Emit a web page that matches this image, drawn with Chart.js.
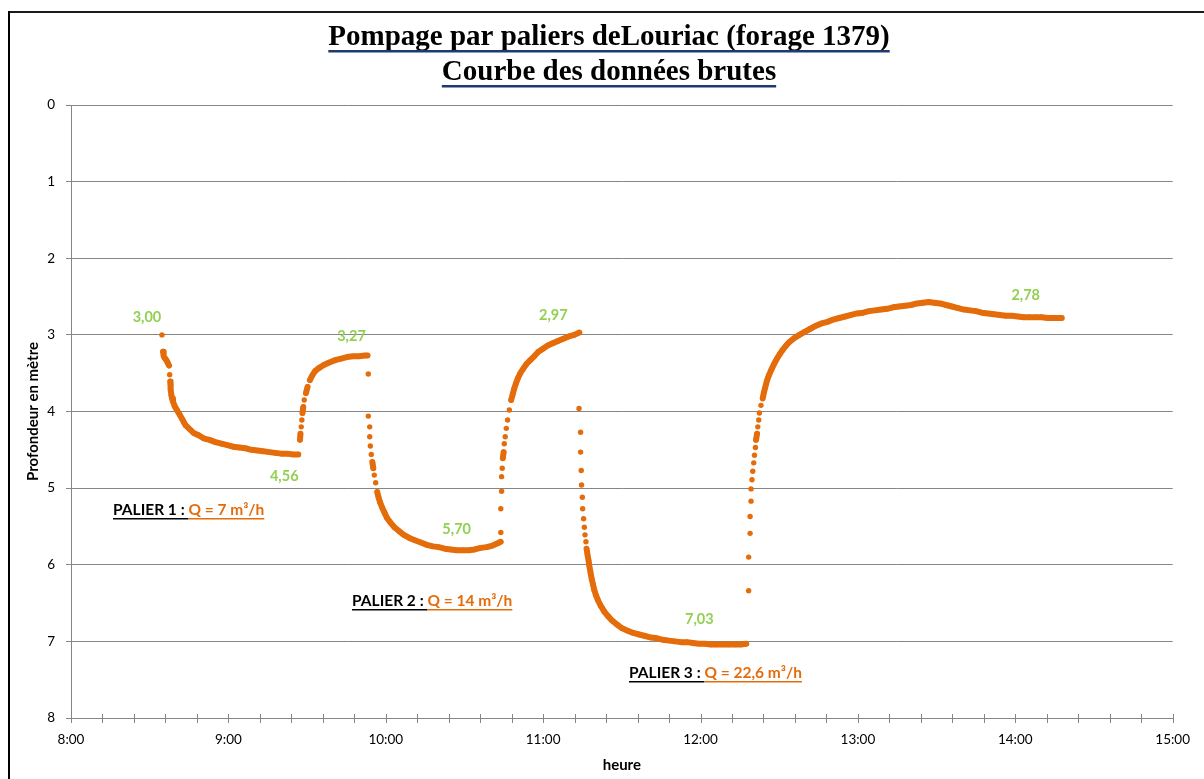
<!DOCTYPE html>
<html lang="fr">
<head>
<meta charset="utf-8">
<title>Pompage par paliers de Louriac</title>
<script src="https://cdn.jsdelivr.net/npm/chart.js@4.4.1/dist/chart.umd.min.js"></script>
<style>
	html, body { margin: 0; padding: 0; background: #fff; }
	canvas { display: block; }
</style>
</head>
<body>
<canvas id="graphique" width="1204" height="779"></canvas>
<script>
// --- Données (heure décimale, profondeur en m)
const palier1Heures = [8.578, 8.585, 8.589, 8.595, 8.606, 8.616, 8.623, 8.627, 8.631, 8.633, 8.633, 8.638, 8.642, 8.648, 8.659, 8.673, 8.690, 8.707, 8.717, 8.728, 8.754, 8.779, 8.811, 8.842, 8.880, 8.918, 8.956, 8.994, 9.032, 9.070, 9.108, 9.146, 9.184, 9.222, 9.260, 9.298, 9.336, 9.374, 9.412, 9.444];
const palier1Prof   = [3.00, 3.22, 3.28, 3.30, 3.33, 3.37, 3.40, 3.52, 3.61, 3.66, 3.71, 3.79, 3.83, 3.87, 3.93, 3.98, 4.04, 4.10, 4.14, 4.18, 4.23, 4.28, 4.31, 4.35, 4.37, 4.40, 4.42, 4.44, 4.46, 4.47, 4.48, 4.50, 4.51, 4.52, 4.53, 4.54, 4.55, 4.55, 4.56, 4.56];

const remontee1Heures = [9.455, 9.458, 9.463, 9.467, 9.471, 9.476, 9.482, 9.493, 9.503, 9.518, 9.533, 9.552, 9.577, 9.609, 9.641, 9.679, 9.716, 9.754, 9.792, 9.830, 9.868, 9.884];
const remontee1Prof   = [4.37, 4.29, 4.20, 4.11, 4.02, 3.94, 3.85, 3.76, 3.68, 3.59, 3.53, 3.47, 3.43, 3.39, 3.36, 3.33, 3.31, 3.29, 3.28, 3.28, 3.27, 3.27];

const palier2Heures = [9.889, 9.889, 9.898, 9.898, 9.902, 9.908, 9.915, 9.921, 9.927, 9.936, 9.946, 9.954, 9.963, 9.976, 9.992, 10.008, 10.030, 10.055, 10.084, 10.115, 10.150, 10.185, 10.223, 10.261, 10.299, 10.337, 10.375, 10.413, 10.451, 10.489, 10.527, 10.565, 10.603, 10.641, 10.679, 10.711, 10.730];
const palier2Prof   = [3.51, 4.06, 4.20, 4.33, 4.45, 4.56, 4.66, 4.74, 4.83, 4.93, 5.05, 5.12, 5.18, 5.25, 5.32, 5.39, 5.45, 5.51, 5.56, 5.61, 5.65, 5.68, 5.71, 5.74, 5.76, 5.77, 5.79, 5.80, 5.81, 5.81, 5.81, 5.80, 5.78, 5.77, 5.75, 5.72, 5.70];

const remontee2Heures = [10.731, 10.731, 10.736, 10.736, 10.740, 10.744, 10.749, 10.753, 10.759, 10.766, 10.774, 10.785, 10.797, 10.806, 10.815, 10.826, 10.839, 10.855, 10.874, 10.894, 10.918, 10.943, 10.970, 10.999, 11.029, 11.061, 11.094, 11.128, 11.163, 11.198, 11.230];
const remontee2Prof   = [5.58, 5.27, 5.04, 4.85, 4.74, 4.61, 4.53, 4.42, 4.33, 4.22, 4.11, 3.98, 3.85, 3.78, 3.71, 3.64, 3.57, 3.50, 3.44, 3.38, 3.33, 3.28, 3.22, 3.18, 3.14, 3.11, 3.08, 3.05, 3.02, 3.00, 2.97];

const palier3Heures = [11.228, 11.238, 11.238, 11.242, 11.244, 11.249, 11.251, 11.257, 11.262, 11.266, 11.272, 11.276, 11.282, 11.289, 11.294, 11.301, 11.308, 11.316, 11.325, 11.336, 11.350, 11.367, 11.377, 11.388, 11.412, 11.439, 11.469, 11.502, 11.537, 11.573, 11.610, 11.648, 11.686, 11.724, 11.762, 11.800, 11.838, 11.876, 11.914, 11.952, 11.990, 12.028, 12.066, 12.104, 12.142, 12.180, 12.218, 12.256, 12.291];
const palier3Prof   = [3.96, 4.27, 4.53, 4.77, 4.96, 5.12, 5.27, 5.40, 5.51, 5.61, 5.70, 5.79, 5.87, 5.95, 6.02, 6.10, 6.18, 6.25, 6.33, 6.40, 6.47, 6.54, 6.57, 6.61, 6.67, 6.73, 6.78, 6.83, 6.86, 6.89, 6.91, 6.93, 6.95, 6.96, 6.98, 6.99, 7.00, 7.01, 7.01, 7.02, 7.03, 7.03, 7.04, 7.04, 7.04, 7.04, 7.04, 7.04, 7.03];

const remontee3Heures = [12.306, 12.306, 12.315, 12.315, 12.321, 12.321, 12.327, 12.332, 12.338, 12.343, 12.349, 12.353, 12.359, 12.364, 12.370, 12.374, 12.384,
	12.395, 12.403, 12.412, 12.422, 12.434, 12.449, 12.465, 12.483, 12.504, 12.524, 12.544, 12.566, 12.597, 12.628, 12.662, 12.698, 12.734, 12.770, 12.807, 12.844, 12.881, 12.919, 12.957, 12.995, 13.034, 13.071, 13.109, 13.147, 13.186, 13.224, 13.262, 13.300, 13.338, 13.376, 13.414, 13.450, 13.484, 13.522, 13.560, 13.598, 13.636, 13.674, 13.712, 13.750, 13.788, 13.826, 13.864, 13.902, 13.940, 13.978, 14.016, 14.054, 14.092, 14.130, 14.168, 14.206, 14.244, 14.282, 14.295];
const remontee3Prof   = [6.34, 5.90, 5.59, 5.37, 5.17, 5.01, 4.89, 4.78, 4.67, 4.57, 4.47, 4.37, 4.29, 4.20, 4.11, 4.02, 3.92,
	3.83, 3.75, 3.68, 3.60, 3.53, 3.46, 3.39, 3.32, 3.25, 3.19, 3.14, 3.09, 3.04, 3.00, 2.96, 2.92, 2.88, 2.85, 2.83, 2.80, 2.78, 2.76, 2.74, 2.72, 2.71, 2.69, 2.68, 2.67, 2.66, 2.64, 2.63, 2.62, 2.61, 2.59, 2.58, 2.57, 2.58, 2.59, 2.61, 2.63, 2.65, 2.67, 2.68, 2.69, 2.71, 2.72, 2.73, 2.74, 2.75, 2.75, 2.76, 2.77, 2.77, 2.77, 2.77, 2.78, 2.78, 2.78, 2.78];

// valeurs repères affichées en vert
const repereTextes = ['3,00', '4,56', '3,27', '5,70', '2,97', '7,03', '2,78'];
const repereHeures = [8.578, 9.444, 9.884, 10.730, 11.230, 12.291, 14.295];
const repereProf   = [3.00, 4.56, 3.27, 5.70, 2.97, 7.03, 2.78];

const paliersNoms   = ['PALIER 1 : ', 'PALIER 2 : ', 'PALIER 3 : '];
const paliersDebits = ['Q = 7 m³/h', 'Q = 14 m³/h', 'Q = 22,6 m³/h'];

const titreLignes = ['Pompage par paliers deLouriac (forage 1379)', 'Courbe des données brutes'];

const ORANGE = '#E46C0A';
const VERT = '#92D050';
const GRIS = '#868686';

function points(heures, prof) {
	let pts = [];
	for (let i = 0; i < heures.length; i++) {
		pts.push({ x: heures[i], y: prof[i] });
	}
	return pts;
}

const mesures = [].concat(
	points(palier1Heures, palier1Prof),
	points(remontee1Heures, remontee1Prof),
	points(palier2Heures, palier2Prof),
	points(remontee2Heures, remontee2Prof),
	points(palier3Heures, palier3Prof),
	points(remontee3Heures, remontee3Prof)
);

// fond blanc + cadre noir en haut et à gauche
const cadre = {
	id: 'cadre',
	beforeDraw(chart) {
		const ctx = chart.ctx;
		ctx.save();
		ctx.fillStyle = '#fff';
		ctx.fillRect(0, 0, chart.width, chart.height);
		ctx.fillStyle = '#1a1a1a';
		ctx.fillRect(8, 11, chart.width - 8, 2);
		ctx.fillStyle = '#000';
		ctx.fillRect(8, 11, 2, chart.height - 11);
		ctx.restore();
	}
};

// titre souligné
const titre = {
	id: 'titre',
	afterDraw(chart) {
		const ctx = chart.ctx;
		const cx = 609;
		const bases = [45, 80];
		ctx.save();
		ctx.font = 'bold 29px "Liberation Serif"';
		ctx.textAlign = 'center';
		ctx.textBaseline = 'alphabetic';
		titreLignes.forEach((ligne, i) => {
			ctx.fillStyle = '#000';
			ctx.fillText(ligne, cx, bases[i]);
			let w = ctx.measureText(ligne).width;
			ctx.fillStyle = '#1F3A6E';
			ctx.fillRect(cx - w / 2, bases[i] + 5, w, 2.5);
		});
		ctx.restore();
	}
};

// graduations en croix sur l'axe des heures
const croix = {
	id: 'croix',
	afterDraw(chart) {
		const ctx = chart.ctx;
		const x = chart.scales.x;
		const bas = chart.chartArea.bottom;
		ctx.save();
		ctx.strokeStyle = GRIS;
		ctx.lineWidth = 1;
		x.ticks.forEach(t => {
			let px = Math.round(x.getPixelForValue(t.value)) + 0.5;
			ctx.beginPath();
			ctx.moveTo(px, bas - 4);
			ctx.lineTo(px, bas + 5);
			ctx.stroke();
		});
		ctx.restore();
	}
};

// étiquettes vertes près des points repères
const reperes = {
	id: 'reperes',
	afterDatasetsDraw(chart) {
		const ctx = chart.ctx;
		const {x, y} = chart.scales;
		const decalages = [[-15, -18], [-14, 22], [-16, -19], [-44, -12], [-26, -17], [-47, -24], [-36, -23]];
		ctx.save();
		ctx.font = 'bold 14.5px Lato';
		ctx.fillStyle = VERT;
		ctx.textAlign = 'center';
		ctx.textBaseline = 'middle';
		for (let i = 0; i < repereTextes.length; i++) {
			let px = x.getPixelForValue(repereHeures[i]) + decalages[i][0];
			let py = y.getPixelForValue(repereProf[i]) + decalages[i][1];
			ctx.fillText(repereTextes[i], px, py);
		}
		ctx.restore();
	}
};

// légendes des paliers (texte souligné noir + débit orange)
const paliers = {
	id: 'paliers',
	afterDraw(chart) {
		const ctx = chart.ctx;
		const places = [[113, 515], [352, 606], [629, 678]];
		ctx.save();
		ctx.textAlign = 'left';
		ctx.textBaseline = 'alphabetic';
		ctx.font = 'bold 15.5px Lato';
		for (let i = 0; i < paliersNoms.length; i++) {
			let [px, py] = places[i];
			ctx.fillStyle = '#000';
			ctx.fillText(paliersNoms[i], px, py);
			let w1 = ctx.measureText(paliersNoms[i]).width;
			ctx.fillRect(px, py + 3, w1, 1.5);
			ctx.fillStyle = ORANGE;
			ctx.fillText(paliersDebits[i], px + w1, py);
			let w2 = ctx.measureText(paliersDebits[i]).width;
			ctx.fillRect(px + w1, py + 3, w2, 1.5);
		}
		ctx.restore();
	}
};

new Chart(document.getElementById('graphique'), {
	type: 'scatter',
	data: {
		datasets: [{
			label: 'Profondeur',
			data: mesures,
			showLine: true,
			borderColor: ORANGE,
			borderWidth: 6,
			borderCapStyle: 'round',
			borderJoinStyle: 'round',
			tension: 0,
			segment: {
				// relie seulement les mesures très rapprochées (partie dense de la courbe)
				borderColor: c => Math.hypot(c.p1.x - c.p0.x, c.p1.y - c.p0.y) > 6.6 ? 'rgba(0,0,0,0)' : undefined
			},
			pointRadius: 2.7,
			pointHoverRadius: 2.7,
			pointBorderWidth: 0,
			pointBackgroundColor: ORANGE
		}]
	},
	options: {
		responsive: false,
		devicePixelRatio: 1,
		animation: false,
		layout: { padding: { top: 105, right: 28, bottom: 0, left: 0 } },
		plugins: {
			legend: { display: false },
			tooltip: { enabled: false }
		},
		scales: {
			x: {
				type: 'linear',
				min: 8,
				max: 15,
				grid: { display: false, drawTicks: false },
				border: { display: true, color: GRIS },
				ticks: {
					stepSize: 0.2,
					autoSkip: false,
					maxRotation: 0,
					padding: 14,
					color: '#000',
					font: { family: 'Lato', size: 13.5 },
					callback: v => Math.abs(v - Math.round(v)) < 1e-6 ? Math.round(v) + ':00' : ''
				},
				title: {
					display: true,
					text: 'heure',
					color: '#000',
					font: { family: 'Lato', size: 15, weight: 'bold' },
					padding: { top: 0, bottom: 5 }
				},
				afterFit: s => { s.height = 61; }
			},
			y: {
				type: 'linear',
				reverse: true,
				min: 0,
				max: 8,
				grid: { color: GRIS, tickLength: 5 },
				border: { color: GRIS },
				ticks: {
					stepSize: 1,
					padding: 11,
					color: '#000',
					font: { family: 'Lato', size: 13.5 }
				},
				title: {
					display: true,
					text: 'Profondeur en mètre',
					color: '#000',
					font: { family: 'Lato', size: 15, weight: 'bold' },
					padding: { top: 24, bottom: 0 }
				},
				afterFit: s => { s.width = 71; }
			}
		}
	},
	plugins: [cadre, titre, croix, reperes, paliers]
});
</script>
</body>
</html>
